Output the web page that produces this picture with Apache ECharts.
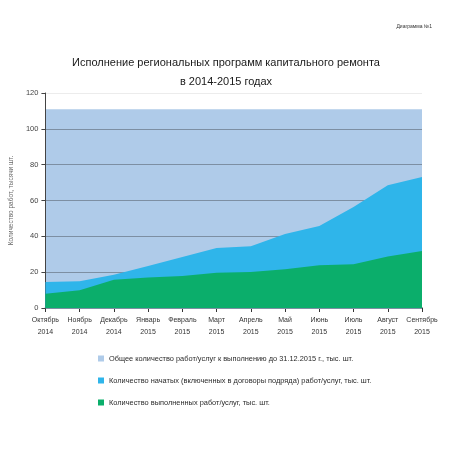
<!DOCTYPE html>
<html>
<head>
<meta charset="utf-8">
<script src="https://cdn.jsdelivr.net/npm/echarts@6/dist/echarts.min.js"></script>
<style>
html, body {margin: 0; padding: 0; background: #fff;}
#echartdiv {width: 452px; height: 452px;}
</style>
</head>
<body>
<div id="echartdiv"></div>
<script>
var months = ["Октябрь\n2014", "Ноябрь\n2014", "Декабрь\n2014", "Январь\n2015", "Февраль\n2015", "Март\n2015",
    "Апрель\n2015", "Май\n2015", "Июнь\n2015", "Июль\n2015", "Август\n2015", "Сентябрь\n2015"];
var totalWorks = [111, 111, 111, 111, 111, 111, 111, 111, 111, 111, 111, 111];
var startedWorks = [14.5, 15, 18.6, 23.4, 28.5, 33.5, 34.4, 41.3, 45.8, 56.4, 68.5, 73.1];
var doneWorks = [8, 9.9, 15.8, 17, 17.9, 19.7, 20.1, 21.6, 23.8, 24.4, 28.8, 31.8];
var seriesNames = [
    "Общее количество работ/услуг к выполнению до 31.12.2015 г., тыс. шт.",
    "Количество начатых (включенных в договоры подряда) работ/услуг, тыс. шт.",
    "Количество выполненных работ/услуг, тыс. шт."
];

var gd_font = "'Liberation Sans', Arial, sans-serif";
var myChart = echarts.init(document.getElementById("echartdiv"));

var option = {
    animation: false,
    textStyle: {fontFamily: gd_font},
    title: [
        {
            text: "Исполнение региональных программ капитального ремонта\nв 2014-2015 годах",
            left: 'center',
            top: 48,
            textStyle: {fontSize: 11, fontWeight: 'normal', color: '#1a1a1a', lineHeight: 19, fontFamily: gd_font}
        },
        {
            text: "Диаграмма №1",
            right: 15,
            top: 19,
            textStyle: {fontSize: 5, fontWeight: 'normal', color: '#333', fontFamily: gd_font}
        }
    ],
    legend: {
        orient: 'vertical',
        left: 93,
        top: 350,
        itemWidth: 6,
        itemHeight: 6,
        itemGap: 15,
        icon: 'rect',
        textStyle: {fontSize: 7.4, color: '#2a2a2a', fontFamily: gd_font},
        data: seriesNames
    },
    grid: {
        left: 45,   //图表距边框的距离
        right: 30,
        top: 93,
        bottom: 144
    },
    xAxis: {
        type: 'category',
        boundaryGap: false,
        data: months,
        axisLine: {lineStyle: {color: '#1c3a2a', width: 1.5}},
        axisTick: {show: true, length: 4, lineStyle: {color: '#333'}},
        axisLabel: {fontSize: 7, color: '#333', lineHeight: 12, margin: 6, interval: 0, fontFamily: gd_font},
        splitLine: {show: false}
    },
    yAxis: {
        type: 'value',
        min: 0,
        max: 120,
        interval: 20,
        z: 2,
        name: "Количество работ, тысячи шт.",
        nameLocation: 'middle',
        nameGap: 23,
        nameTextStyle: {fontSize: 6.5, color: '#666', fontFamily: gd_font},
        axisLine: {show: true, lineStyle: {color: '#444'}},
        axisTick: {show: true, length: 4, lineStyle: {color: '#444'}},
        axisLabel: {fontSize: 7.5, color: '#444', margin: 7, fontFamily: gd_font},
        splitLine: {
            show: true,
            lineStyle: {color: ['#7d8fa3', '#7d8fa3', '#7d8fa3', '#7d8fa3', '#7d8fa3', '#7d8fa3', '#ececec'], width: 1}
        }
    },
    series: [
        {
            name: seriesNames[0],
            type: 'line',
            z: 1,
            data: totalWorks,
            symbol: 'none',
            lineStyle: {width: 0},
            itemStyle: {color: '#afcbe9'},
            areaStyle: {color: '#afcbe9', opacity: 1}
        },
        {
            name: seriesNames[1],
            type: 'line',
            z: 3,
            data: startedWorks,
            symbol: 'none',
            lineStyle: {width: 0},
            itemStyle: {color: '#2fb5ea'},
            areaStyle: {color: '#2fb5ea', opacity: 1}
        },
        {
            name: seriesNames[2],
            type: 'line',
            z: 4,
            data: doneWorks,
            symbol: 'none',
            lineStyle: {width: 0},
            itemStyle: {color: '#0bae6b'},
            areaStyle: {color: '#0bae6b', opacity: 1}
        }
    ]
};

myChart.setOption(option);
</script>
</body>
</html>
